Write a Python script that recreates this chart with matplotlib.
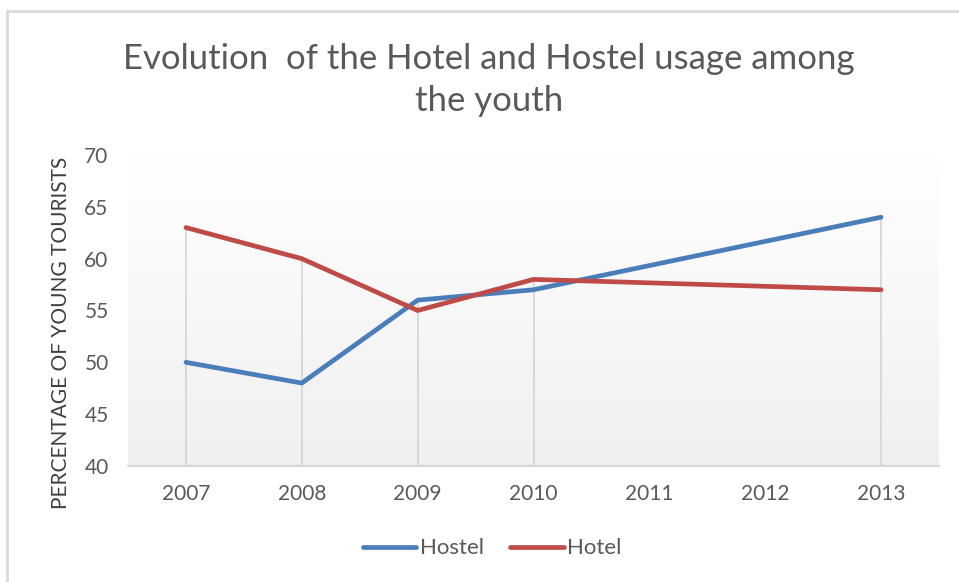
import numpy as np
import matplotlib.pyplot as plt
from matplotlib.lines import Line2D

years = ['2007', '2008', '2009', '2010', '2011', '2012', '2013']
data_years = [2007, 2008, 2009, 2010, 2013]
hostel = [50, 48, 56, 57, 64]
hotel = [63, 60, 55, 58, 57]

blue = '#4a7ebb'
red = '#be4b48'
txt = '#595959'

plt.rcParams['font.family'] = ['Lato', 'DejaVu Sans']

fig = plt.figure(figsize=(9.59, 5.82), dpi=100)
W, H = 959, 582

# outer chart border (top and left visible)
fig.add_artist(Line2D([7/W, 7/W], [0, 1 - 11/H], color='#d9d9d9', lw=2))
fig.add_artist(Line2D([7/W, 1], [1 - 11/H, 1 - 11/H], color='#d9d9d9', lw=2))

ax = fig.add_axes([128/W, 1 - 466/H, 811/W, 311/H])
ax.set_xlim(2006.5, 2013.5)
ax.set_ylim(40, 70)

# plot area gradient, white at top to light gray at bottom
grad = np.linspace(1.0, 0.94, 256).reshape(-1, 1)
ax.imshow(np.dstack([grad, grad, grad]), extent=[2006.5, 2013.5, 40, 70],
          aspect='auto', zorder=0, origin='upper')

# drop lines
tops = [max(a, b) for a, b in zip(hostel, hotel)]
ax.vlines(data_years, 40, tops, color='#d4d4d4', lw=1.2, zorder=1)

ax.plot(data_years, hostel, color=blue, lw=3.4, label='Hostel', zorder=3,
        solid_capstyle='round', solid_joinstyle='round')
ax.plot(data_years, hotel, color=red, lw=3.4, label='Hotel', zorder=3,
        solid_capstyle='round', solid_joinstyle='round')

for s in ['top', 'right', 'left']:
    ax.spines[s].set_visible(False)
ax.spines['bottom'].set_color('#d9d9d9')
ax.spines['bottom'].set_linewidth(1.5)

ax.set_xticks(range(2007, 2014))
ax.set_xticklabels(years)
ax.set_yticks(range(40, 71, 5))
ax.tick_params(length=0, labelsize=15, labelcolor=txt)
ax.tick_params(axis='x', pad=13)
ax.tick_params(axis='y', pad=14)

ax.set_ylabel('PERCENTAGE OF YOUNG TOURISTS', fontsize=15, color='#404040')
ax.yaxis.set_label_coords(-0.0705, 0.5 - 22/311)

fig.text(489/W, 1 - 80/H, 'Evolution  of the Hotel and Hostel usage among\nthe youth',
         ha='center', va='center', fontsize=25, color=txt, linespacing=1.35)

ax.legend(loc='center', bbox_to_anchor=(0.449, -0.265), ncol=2, frameon=False,
          fontsize=16, labelcolor=txt, handlelength=2.4, handletextpad=0.15,
          columnspacing=1.2)

fig.savefig('out.png', dpi=100)
